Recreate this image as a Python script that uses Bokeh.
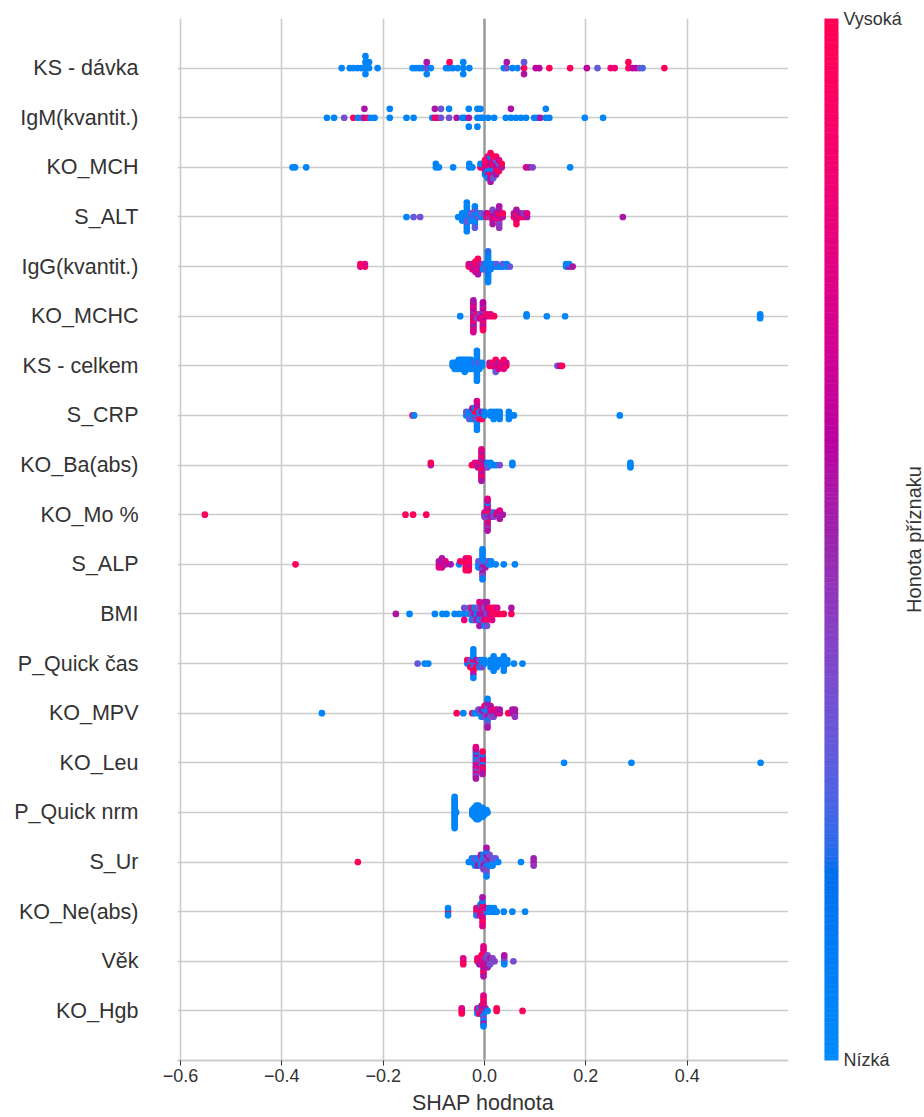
import math
import numpy as np
from bokeh.plotting import figure
from bokeh.layouts import row
from bokeh.models import FixedTicker, Span
from bokeh.core.properties import value
from bokeh.embed import file_html
from bokeh.resources import INLINE

# ---------------- data ----------------
feature_names = ["KS - dávka", "IgM(kvantit.)", "KO_MCH", "S_ALT", "IgG(kvantit.)",
                 "KO_MCHC", "KS - celkem", "S_CRP", "KO_Ba(abs)", "KO_Mo %",
                 "S_ALP", "BMI", "P_Quick čas", "KO_MPV", "KO_Leu",
                 "P_Quick nrm", "S_Ur", "KO_Ne(abs)", "Věk", "KO_Hgb"]

x_ticks = [-0.6, -0.4, -0.2, 0.0, 0.2, 0.4]
x_tick_labels = ["\u22120.6", "\u22120.4", "\u22120.2", "0.0", "0.2", "0.4"]
x_label = "SHAP hodnota"
cbar_label = "Honota příznaku"
cbar_low = "Nízká"
cbar_high = "Vysoká"

# each entry: (SHAP value, [normalised feature values of the samples with that SHAP value])
ks_davka = [
    (-0.282, [0.05]), (-0.266, [0.05]), (-0.259, [0.05]), (-0.251, [0.05]), (-0.243, [0.05]),
    (-0.235, [0.05, 0.05, 0.05, 0.05]), (-0.228, [0.05, 0.05]), (-0.211, [0.05]),
    (-0.142, [0.05]), (-0.136, [0.05]), (-0.129, [0.05]), (-0.123, [0.05]),
    (-0.114, [0.35, 0.55, 0.05]), (-0.106, [0.05]),
    (-0.076, [0.05]), (-0.070, [0.05]), (-0.069, [0.95]), (-0.063, [0.05]), (-0.053, [0.05]),
    (-0.042, [0.05, 0.05, 0.05]), (-0.030, [0.05]),
    (0.038, [0.05]), (0.044, [0.35, 0.55]), (0.055, [0.05]), (0.065, [0.05]),
    (0.078, [0.95, 0.3, 0.55]),
    (0.101, [0.6]), (0.108, [0.6]), (0.128, [0.95]), (0.169, [0.95]), (0.202, [0.6]), (0.223, [0.3]),
    (0.249, [0.85]), (0.257, [0.85]), (0.284, [0.95, 0.95]), (0.292, [0.65]), (0.299, [0.6]),
    (0.306, [0.4]), (0.312, [0.25]), (0.355, [0.95]),
]
igm = [
    (-0.311, [0.05]), (-0.297, [0.05]), (-0.277, [0.35]), (-0.259, [0.95]), (-0.250, [0.05]), (-0.241, [0.35]),
    (-0.237, [0.55, 0.55]), (-0.231, [0.95]), (-0.225, [0.05]), (-0.217, [0.05]),
    (-0.187, [0.05, 0.05]), (-0.154, [0.05]), (-0.140, [0.05]),
    (-0.103, [0.05]), (-0.098, [0.95, 0.55]), (-0.093, [0.8]), (-0.086, [0.35, 0.35]),
    (-0.070, [0.35, 0.05]), (-0.055, [0.55]), (-0.044, [0.05]), (-0.039, [0.05]),
    (-0.031, [0.55, 0.05, 0.05]),
    (-0.014, [0.05, 0.05, 0.05]), (-0.008, [0.05, 0.05]), (-0.003, [0.05]),
    (0.007, [0.05]), (0.019, [0.05]), (0.042, [0.05]), (0.052, [0.05, 0.55]), (0.062, [0.05]),
    (0.072, [0.05]), (0.082, [0.05]),
    (0.098, [0.05]), (0.105, [0.05]), (0.110, [0.55]), (0.121, [0.05, 0.05]), (0.128, [0.05]),
    (0.198, [0.05]), (0.234, [0.05]),
]
ko_mch = [
    (-0.379, [0.05]), (-0.374, [0.05]), (-0.352, [0.05]),
    (-0.096, [0.05, 0.05]), (-0.090, [0.05]), (-0.062, [0.05]), (-0.030, [0.05, 0.05]), (-0.024, [0.05]),
    (-0.008, [0.85, 0.05]),
    (0.001, [0.95, 0.75, 0.55, 0.95, 0.05]),
    (0.0065, [0.55, 0.95, 0.05, 0.95, 0.55, 0.75, 0.05]),
    (0.012, [0.95, 0.55, 0.05, 0.55, 0.95, 0.05, 0.75, 0.95, 0.55]),
    (0.0175, [0.55, 0.95, 0.05, 0.75, 0.55, 0.95, 0.3]),
    (0.023, [0.75, 0.55, 0.95, 0.3, 0.55, 0.95]),
    (0.0285, [0.55, 0.3, 0.95, 0.75]),
    (0.034, [0.55, 0.95]),
    (0.082, [0.75]), (0.088, [0.55]), (0.095, [0.4]), (0.169, [0.05]),
]
s_alt = [
    (-0.154, [0.05]), (-0.140, [0.3]), (-0.127, [0.35]),
    (-0.052, [0.05]), (-0.044, [0.05, 0.05, 0.05]),
    (-0.035, [0.05, 0.05, 0.3, 0.05, 0.3, 0.05, 0.05, 0.05, 0.05]),
    (-0.027, [0.05, 0.3, 0.05]),
    (-0.019, [0.3, 0.05, 0.05, 0.35, 0.05, 0.05, 0.3]),
    (-0.012, [0.35, 0.05]), (-0.006, [0.05, 0.3]),
    (0.004, [0.95, 0.55]), (0.010, [0.4, 0.95]),
    (0.016, [0.95, 0.55, 0.75, 0.4, 0.55]), (0.022, [0.75, 0.55]),
    (0.029, [0.55, 0.95, 0.75, 0.55, 0.4, 0.55, 0.45]), (0.036, [0.55, 0.95]),
    (0.058, [0.95, 0.55]), (0.063, [0.55, 0.95, 0.75, 0.55, 0.95]),
    (0.070, [0.95, 0.55]), (0.077, [0.95, 0.45]), (0.084, [0.55, 0.75]),
    (0.273, [0.55]),
]
igg = [
    (-0.245, [0.75, 0.95]), (-0.236, [0.95, 0.75]),
    (-0.031, [0.95, 0.75]), (-0.024, [0.95, 0.55, 0.75]),
    (-0.018, [0.75, 0.95, 0.55, 0.95, 0.75]),
    (-0.013, [0.75, 0.95, 0.55, 0.95, 0.75, 0.95, 0.55]),
    (-0.008, [0.95, 0.55, 0.75]), (-0.003, [0.55, 0.4, 0.05]),
    (0.003, [0.05, 0.05, 0.3]),
    (0.007, [0.05, 0.05, 0.2, 0.05, 0.05, 0.05, 0.2, 0.05, 0.05, 0.05, 0.05, 0.2, 0.05]),
    (0.012, [0.05, 0.05, 0.05]), (0.018, [0.05, 0.05]), (0.024, [0.05, 0.3]), (0.030, [0.05]),
    (0.036, [0.05, 0.3]), (0.044, [0.05, 0.05]), (0.050, [0.3]),
    (0.161, [0.05, 0.05]), (0.167, [0.55, 0.05]), (0.174, [0.55]),
]
ko_mchc = [
    (-0.048, [0.05]),
    (-0.022, [0.75, 0.6, 0.9, 0.55, 0.75, 0.45, 0.75, 0.6, 0.9, 0.7, 0.55, 0.75, 0.5, 0.65, 0.8, 0.55, 0.7]),
    (-0.015, [0.55, 0.95, 0.4]), (-0.009, [0.55, 0.4, 0.75]),
    (-0.003, [0.75, 0.6, 0.95, 0.55, 0.75, 0.45, 0.7, 0.6, 0.9, 0.75, 0.55, 0.5, 0.75, 0.6, 0.9]),
    (0.005, [0.6, 0.95]), (0.012, [0.95, 0.75]), (0.019, [0.95]),
    (0.083, [0.05, 0.05]), (0.123, [0.05]), (0.159, [0.05]), (0.544, [0.05, 0.05, 0.05]),
]
ks_celkem = [
    (-0.063, [0.05, 0.05]), (-0.059, [0.05, 0.05, 0.05]), (-0.055, [0.05, 0.05, 0.05]),
    (-0.051, [0.05, 0.05, 0.05, 0.05]), (-0.047, [0.05, 0.05, 0.05, 0.05]), (-0.043, [0.05, 0.05, 0.05, 0.05]),
    (-0.039, [0.05, 0.05, 0.05, 0.05, 0.05]), (-0.035, [0.05, 0.05, 0.05, 0.05]),
    (-0.031, [0.05, 0.05, 0.05, 0.05]), (-0.027, [0.05, 0.05, 0.05, 0.05]),
    (-0.023, [0.05, 0.05, 0.05]), (-0.019, [0.05, 0.3, 0.05]),
    (-0.015, [0.05, 0.05, 0.05, 0.05, 0.05, 0.05, 0.05, 0.05, 0.05, 0.05, 0.05]),
    (-0.010, [0.05, 0.35, 0.05]), (-0.005, [0.05, 0.05]),
    (0.010, [0.95, 0.55]), (0.016, [0.75, 0.95]),
    (0.022, [0.95, 0.55, 0.75, 0.95, 0.3]), (0.028, [0.95, 0.55, 0.75]), (0.033, [0.75, 0.95]),
    (0.038, [0.95, 0.55, 0.75, 0.95]), (0.043, [0.95, 0.75]),
    (0.144, [0.35]), (0.149, [0.55]), (0.153, [0.95]),
]
s_crp = [
    (-0.142, [0.95]), (-0.139, [0.05]),
    (-0.036, [0.05, 0.3]), (-0.030, [0.05, 0.05, 0.3]), (-0.024, [0.3, 0.05, 0.05, 0.55]),
    (-0.019, [0.05, 0.95, 0.4, 0.05]),
    (-0.015, [0.05, 0.95, 0.35, 0.95, 0.05, 0.55, 0.05, 0.75, 0.05]),
    (-0.010, [0.3, 0.05, 0.95]), (-0.005, [0.05, 0.55, 0.95]), (0.000, [0.05, 0.05]),
    (0.012, [0.05, 0.05]), (0.018, [0.05, 0.05, 0.05]), (0.024, [0.05, 0.05]), (0.030, [0.05, 0.05, 0.05]),
    (0.048, [0.05, 0.05, 0.05]), (0.053, [0.05]), (0.058, [0.05]), (0.267, [0.05]),
]
ko_ba = [
    (-0.106, [0.55, 0.95]), (-0.025, [0.95]),
    (-0.019, [0.95, 0.75]), (-0.013, [0.95, 0.75, 0.55]),
    (-0.006, [0.75, 0.95, 0.55, 0.75, 0.95, 0.5, 0.95, 0.75, 0.55, 0.95, 0.75, 0.55, 0.95, 0.75, 0.55]),
    (0.000, [0.95, 0.55, 0.75]), (0.006, [0.05, 0.05, 0.3]), (0.012, [0.05, 0.05]), (0.018, [0.05]),
    (0.023, [0.05]), (0.030, [0.35]), (0.055, [0.05, 0.05]), (0.288, [0.05, 0.05, 0.05]),
]
ko_mo = [
    (-0.552, [0.95]), (-0.156, [0.95]), (-0.141, [0.95]), (-0.115, [0.95]),
    (0.000, [0.55, 0.75, 0.4]),
    (0.006, [0.55, 0.75, 0.05, 0.95, 0.55, 0.75, 0.3, 0.55, 0.95, 0.75, 0.55, 0.05, 0.75, 0.55, 0.4, 0.75, 0.55]),
    (0.012, [0.05, 0.95, 0.55]), (0.018, [0.55, 0.05, 0.4]), (0.024, [0.55, 0.75]),
    (0.030, [0.55, 0.55, 0.45, 0.75, 0.55]), (0.036, [0.55]),
]
s_alp = [
    (-0.373, [0.95]),
    (-0.090, [0.75, 0.55, 0.75]), (-0.084, [0.75, 0.55, 0.75, 0.55]), (-0.077, [0.55, 0.75]),
    (-0.067, [0.55]), (-0.050, [0.05]), (-0.048, [0.95]),
    (-0.037, [0.95, 0.95, 0.95, 0.75, 0.95]), (-0.031, [0.95, 0.95, 0.75, 0.95, 0.95]),
    (-0.012, [0.05, 0.3, 0.05]),
    (-0.004, [0.05, 0.3, 0.55, 0.05, 0.4, 0.05, 0.55, 0.05, 0.35, 0.05, 0.05]),
    (0.002, [0.4, 0.05, 0.55]), (0.008, [0.05, 0.35]), (0.013, [0.05, 0.05]),
    (0.022, [0.05]), (0.038, [0.05]), (0.060, [0.05]),
]
bmi = [
    (-0.175, [0.55]), (-0.148, [0.05]), (-0.098, [0.05]), (-0.083, [0.05]), (-0.075, [0.05]),
    (-0.059, [0.05]), (-0.050, [0.05]), (-0.040, [0.05, 0.35, 0.8]),
    (-0.030, [0.05, 0.3]), (-0.025, [0.35, 0.95, 0.05]), (-0.020, [0.55, 0.05, 0.35]),
    (-0.015, [0.05, 0.3, 0.55]), (-0.010, [0.55, 0.35, 0.05, 0.75, 0.55]), (-0.005, [0.55, 0.75, 0.4]),
    (0.000, [0.55, 0.35, 0.75, 0.55, 0.05]), (0.005, [0.4, 0.55, 0.95, 0.55, 0.35]),
    (0.010, [0.55, 0.95]), (0.015, [0.95, 0.95, 0.75]), (0.020, [0.95, 0.95]), (0.025, [0.95, 0.75]),
    (0.030, [0.95]), (0.038, [0.95]), (0.053, [0.95, 0.55]),
]
p_quick_cas = [
    (-0.132, [0.3]), (-0.118, [0.05]), (-0.111, [0.05]),
    (-0.034, [0.05, 0.95]), (-0.028, [0.05, 0.35, 0.95]),
    (-0.022, [0.05, 0.95, 0.35, 0.05, 0.95, 0.05, 0.55, 0.05, 0.05]),
    (-0.016, [0.05, 0.55, 0.95]), (-0.010, [0.95, 0.35, 0.05]), (-0.005, [0.05, 0.05, 0.35]), (0.000, [0.05, 0.05]),
    (0.012, [0.05, 0.05, 0.05]), (0.018, [0.05, 0.05, 0.05, 0.05, 0.05]), (0.024, [0.05, 0.05, 0.05]),
    (0.031, [0.05, 0.05]), (0.038, [0.05, 0.05, 0.05, 0.05, 0.05]), (0.045, [0.05, 0.05]),
    (0.058, [0.05]), (0.075, [0.05]),
]
ko_mpv = [
    (-0.321, [0.05]), (-0.055, [0.95]), (-0.042, [0.05]), (-0.024, [0.95]), (-0.020, [0.05]),
    (-0.012, [0.05, 0.35]), (-0.006, [0.35, 0.55, 0.05]), (0.000, [0.55, 0.05, 0.35, 0.75]),
    (0.006, [0.35, 0.05, 0.55, 0.4, 0.05, 0.55, 0.35, 0.05, 0.55]),
    (0.012, [0.55, 0.75, 0.35, 0.55]), (0.018, [0.55, 0.75, 0.4]), (0.024, [0.55, 0.75]), (0.030, [0.75, 0.55]),
    (0.047, [0.95]), (0.055, [0.55, 0.55]), (0.060, [0.55, 0.55, 0.45]),
]
ko_leu = [
    (-0.017, [0.55, 0.05, 0.75, 0.4, 0.55, 0.05, 0.75, 0.55, 0.35, 0.05, 0.75, 0.55, 0.4, 0.75, 0.55]),
    (-0.004, [0.95, 0.75, 0.05, 0.95, 0.75, 0.55, 0.95, 0.05, 0.75, 0.95, 0.55]),
    (0.157, [0.05]), (0.290, [0.05]), (0.545, [0.05]),
]
p_quick_nrm = [
    (-0.059, [0.05, 0.05, 0.05, 0.05, 0.05, 0.05, 0.05, 0.05, 0.05, 0.05, 0.05, 0.05, 0.05, 0.05, 0.05]),
    (-0.056, [0.05]),
    (-0.024, [0.05, 0.05, 0.05]), (-0.020, [0.05, 0.05, 0.05, 0.05, 0.05]),
    (-0.016, [0.05, 0.05, 0.05, 0.05, 0.05, 0.05, 0.05]), (-0.012, [0.05, 0.05, 0.05, 0.05, 0.05, 0.05, 0.05]),
    (-0.008, [0.05, 0.05, 0.05, 0.05, 0.05]), (-0.004, [0.05, 0.05, 0.05, 0.05, 0.05]),
    (0.000, [0.05, 0.05, 0.05]), (0.004, [0.05, 0.05]), (0.006, [0.05]),
]
s_ur = [
    (-0.250, [0.95]),
    (-0.031, [0.05]), (-0.025, [0.05, 0.05]), (-0.019, [0.05, 0.35, 0.05]), (-0.013, [0.35, 0.05, 0.55]),
    (-0.007, [0.05, 0.4, 0.05, 0.55]), (-0.002, [0.35, 0.05, 0.55, 0.05, 0.4]),
    (0.004, [0.55, 0.35, 0.05, 0.55, 0.4, 0.05, 0.35, 0.55, 0.05]),
    (0.010, [0.4, 0.55, 0.05, 0.35]), (0.016, [0.05, 0.35, 0.05]), (0.022, [0.05, 0.3]), (0.027, [0.05]),
    (0.072, [0.05]), (0.097, [0.55, 0.5, 0.45]),
]
ko_ne = [
    (-0.072, [0.95, 0.05, 0.05]),
    (-0.016, [0.95, 0.75, 0.05]), (-0.012, [0.75, 0.95, 0.35]), (-0.008, [0.95, 0.55, 0.75, 0.05]),
    (-0.004, [0.95, 0.75, 0.55, 0.95, 0.75, 0.05, 0.95, 0.55, 0.75]),
    (0.000, [0.95, 0.75]), (0.004, [0.05, 0.75]), (0.009, [0.05, 0.05]), (0.014, [0.05, 0.05]),
    (0.019, [0.05, 0.05]), (0.024, [0.05]), (0.038, [0.05]), (0.055, [0.05]), (0.080, [0.05]),
]
vek = [
    (-0.042, [0.95, 0.75, 0.95]),
    (-0.014, [0.95, 0.75]), (-0.010, [0.75, 0.95, 0.55]), (-0.006, [0.95, 0.75, 0.55, 0.95]),
    (-0.002, [0.95, 0.75, 0.55, 0.95, 0.75, 0.95, 0.55, 0.75, 0.95, 0.75, 0.55]),
    (0.002, [0.55, 0.4, 0.75]), (0.006, [0.55, 0.4, 0.55, 0.35, 0.55]), (0.011, [0.4, 0.55, 0.35]),
    (0.016, [0.35, 0.4]), (0.020, [0.4]), (0.039, [0.05, 0.4, 0.05, 0.55]), (0.057, [0.35]),
]
ko_hgb = [
    (-0.045, [0.95, 0.75, 0.95]),
    (-0.014, [0.95, 0.75, 0.05]), (-0.010, [0.75, 0.05, 0.95]), (-0.006, [0.05, 0.95, 0.75, 0.55]),
    (-0.002, [0.05, 0.95, 0.75, 0.55, 0.05, 0.95, 0.35, 0.75, 0.05, 0.95, 0.55, 0.75, 0.05]),
    (0.002, [0.05, 0.55]), (0.006, [0.05]), (0.024, [0.95, 0.95]), (0.075, [0.95]),
]

rows_data = [ks_davka, igm, ko_mch, s_alt, igg, ko_mchc, ks_celkem, s_crp, ko_ba, ko_mo,
             s_alp, bmi, p_quick_cas, ko_mpv, ko_leu, p_quick_nrm, s_ur, ko_ne, vek, ko_hgb]

# ---------------- colormap (shap red_blue, LCH interpolation) ----------------
def lch2rgb(l, c, h):
    a = c * math.cos(h)
    b = c * math.sin(h)
    fy = (l + 16.0) / 116.0
    fx = a / 500.0 + fy
    fz = fy - b / 200.0
    if fz < 0:
        fz = 0.0
    def finv(t):
        return t ** 3 if t > 0.2068966 else (t - 16.0 / 116.0) / 7.787
    X = finv(fx) * 0.95047
    Y = finv(fy) * 1.0
    Z = finv(fz) * 1.08883
    r = 3.24048134 * X - 1.53715152 * Y - 0.49853633 * Z
    g = -0.96925495 * X + 1.87599 * Y + 0.04155593 * Z
    bb = 0.05564664 * X - 0.20404134 * Y + 1.05731107 * Z
    out = []
    for v in (r, g, bb):
        v = 1.055 * v ** (1 / 2.4) - 0.055 if v > 0.0031308 else v * 12.92
        out.append(min(1.0, max(0.0, v)))
    return out

nsteps = 100
blue_lch = [54.0, 70.0, 4.6588]
red_lch = [54.0, 90.0, 0.35470565 + 2 * np.pi]
l_mid = 40.0
l_vals = list(np.linspace(blue_lch[0], l_mid, nsteps // 2)) + list(np.linspace(l_mid, red_lch[0], nsteps // 2))
c_vals = np.linspace(blue_lch[1], red_lch[1], nsteps)
h_vals = np.linspace(blue_lch[2], red_lch[2], nsteps)
cm_pos = np.linspace(0, 1, nsteps)
cm_rgb = np.array([lch2rgb(l, c, h) for l, c, h in zip(l_vals, c_vals, h_vals)])

def cmap(v):
    r = np.interp(v, cm_pos, cm_rgb[:, 0])
    g = np.interp(v, cm_pos, cm_rgb[:, 1])
    b = np.interp(v, cm_pos, cm_rgb[:, 2])
    return "#%02x%02x%02x" % (int(round(r * 255)), int(round(g * 255)), int(round(b * 255)))

# ---------------- beeswarm layout (as in shap) ----------------
def swarm_offsets(shaps, nbins=100, row_height=0.4):
    shaps = np.asarray(shaps, dtype=float)
    n = len(shaps)
    quant = np.round(nbins * (shaps - shaps.min()) / (shaps.max() - shaps.min() + 1e-8))
    inds = np.argsort(quant, kind="stable")
    layer = 0
    last_bin = -1
    ys = np.zeros(n)
    for ind in inds:
        if quant[ind] != last_bin:
            layer = 0
        ys[ind] = np.ceil(layer / 2) * ((layer % 2) * 2 - 1)
        layer += 1
        last_bin = quant[ind]
    ys *= 0.9 * (row_height / np.max(ys + 1))
    return ys

FONT = "Liberation Sans"
TXT = "#333333"

n_feat = len(feature_names)
px, py, pc = [], [], []
for i, groups in enumerate(rows_data):
    pos = n_feat - 1 - i
    sh, fv = [], []
    for s, vals in groups:
        for v in vals:
            sh.append(s)
            fv.append(v)
    off = swarm_offsets(sh)
    px.extend(sh)
    py.extend(list(pos + off))
    pc.extend([cmap(v) for v in fv])

# ---------------- main plot ----------------
W, H = 788, 1117
TOP, BOTTOM = 18, 55
p = figure(width=W, height=H, x_range=(-0.606, 0.600), y_range=(-1, n_feat),
           output_backend="svg", toolbar_location=None,
           min_border_left=177, min_border_right=0, min_border_top=TOP, min_border_bottom=BOTTOM)
p.outline_line_color = None
p.background_fill_color = "white"
p.border_fill_color = "white"

p.xaxis.ticker = FixedTicker(ticks=x_ticks)
p.xaxis.major_label_overrides = dict(zip(x_ticks, x_tick_labels))
p.xaxis.axis_line_color = "#cccccc"
p.xaxis.axis_line_width = 2
p.xaxis.major_tick_line_color = TXT
p.xaxis.major_tick_line_width = 1
p.xaxis.major_tick_out = 5
p.xaxis.major_tick_in = 0
p.xaxis.minor_tick_line_color = None
p.xaxis.major_label_text_font = FONT
p.xaxis.major_label_text_font_size = "18px"
p.xaxis.major_label_text_color = TXT
p.xaxis.major_label_standoff = 3
p.xaxis.axis_label = x_label
p.xaxis.axis_label_text_font = FONT
p.xaxis.axis_label_text_font_size = "21.5px"
p.xaxis.axis_label_text_font_style = "normal"
p.xaxis.axis_label_text_color = TXT
p.xaxis.axis_label_standoff = 6

p.yaxis.ticker = FixedTicker(ticks=list(range(n_feat)))
p.yaxis.major_label_overrides = {n_feat - 1 - i: name for i, name in enumerate(feature_names)}
p.yaxis.axis_line_color = None
p.yaxis.major_tick_line_color = None
p.yaxis.minor_tick_line_color = None
p.yaxis.major_tick_out = 0
p.yaxis.major_tick_in = 0
p.yaxis.major_label_standoff = 39
p.yaxis.major_label_text_font = FONT
p.yaxis.major_label_text_font_size = "21.5px"
p.yaxis.major_label_text_color = TXT

p.xgrid.ticker = FixedTicker(ticks=x_ticks)
p.ygrid.ticker = FixedTicker(ticks=list(range(n_feat)))
for g in (p.xgrid, p.ygrid):
    g.grid_line_color = "#cccccc"
    g.grid_line_width = 1.6

p.add_layout(Span(location=0, dimension="height", line_color="#999999", line_width=2.4, level="underlay"))

p.scatter(px, py, size=6.7, fill_color=pc, line_color=None)

# ---------------- colour bar (bar + end labels) ----------------
CBW = 116
BAR_X0, BAR_X1 = 37, 51
cb = figure(width=CBW, height=H, x_range=(0, BAR_X1), y_range=(-1.0001, n_feat + 0.0001),
            output_backend="svg", toolbar_location=None,
            min_border_left=0, min_border_right=CBW - BAR_X1, min_border_top=TOP, min_border_bottom=BOTTOM,
            x_axis_location=None, y_axis_location="right")
cb.outline_line_color = None
cb.grid.visible = False
cb.yaxis.ticker = FixedTicker(ticks=[-1, n_feat])
cb.yaxis.major_label_overrides = {-1: cbar_low, n_feat: cbar_high}
cb.yaxis.axis_line_color = None
cb.yaxis.major_tick_line_color = None
cb.yaxis.minor_tick_line_color = None
cb.yaxis.major_tick_out = 0
cb.yaxis.major_tick_in = 0
cb.yaxis.major_label_standoff = 5
cb.yaxis.major_label_text_font = FONT
cb.yaxis.major_label_text_font_size = "18px"
cb.yaxis.major_label_text_color = TXT
nslices = 220
edges = np.linspace(-1, n_feat, nslices + 1)
slice_cols = [cmap((k + 0.5) / nslices) for k in range(nslices)]
cb.quad(left=BAR_X0, right=BAR_X1, bottom=edges[:-1], top=edges[1:], fill_color=slice_cols,
        line_color=slice_cols, line_width=0.6)

# ---------------- colour bar title ----------------
LW = 924 - W - CBW
lab = figure(width=LW, height=H, x_range=(0, LW), y_range=(-1, n_feat), output_backend="svg",
             toolbar_location=None, min_border_left=0, min_border_right=0,
             min_border_top=TOP, min_border_bottom=BOTTOM, x_axis_location=None, y_axis_location=None)
lab.outline_line_color = None
lab.grid.visible = False
lab.text(x=[LW / 2.0 - 1], y=[(n_feat - 1) / 2.0], text=[cbar_label], angle=math.pi / 2, text_align="center",
         text_baseline="middle", text_font=value(FONT), text_font_size="20px", text_color=TXT)

layout = row(p, cb, lab)
open("out.html", "w").write(file_html(layout, INLINE))
